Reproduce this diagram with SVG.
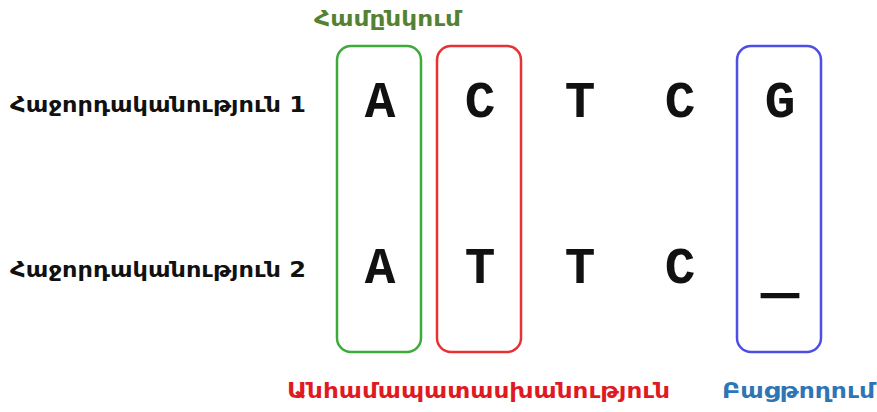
<svg xmlns="http://www.w3.org/2000/svg" width="877" height="412" viewBox="0 0 877 412">
<style>
.lbl{font-family:"DejaVu Sans","Noto Sans",sans-serif;font-weight:bold;font-size:21px;fill:#111}
.cap{font-family:"DejaVu Sans","Noto Sans",sans-serif;font-weight:bold;font-size:21px}
.nt{font-family:"Liberation Mono","Courier New",monospace;font-weight:bold;font-size:51px;fill:#111;text-anchor:middle}
.dash{stroke:#111;stroke-width:2.5;font-size:60px}
.box{fill:none;stroke-width:2.5}
</style>
<rect width="877" height="412" fill="#fff"/>
<g id="labels">
<text class="lbl" x="10" y="112" textLength="296" lengthAdjust="spacingAndGlyphs">Հաջորդականություն 1</text>
<text class="lbl" x="10" y="277" textLength="296" lengthAdjust="spacingAndGlyphs">Հաջորդականություն 2</text>
</g>
<g id="match">
<rect class="box" x="337" y="46" width="84" height="306" rx="14" stroke="#3cab3a"/>
<text class="cap" x="314" y="26" fill="#548235" textLength="147" lengthAdjust="spacingAndGlyphs">Համընկում</text>
</g>
<g id="mismatch">
<rect class="box" x="437" y="46" width="84" height="306" rx="14" stroke="#e63232"/>
<text class="cap" x="287" y="398" fill="#e01a22" textLength="383" lengthAdjust="spacingAndGlyphs">Անհամապատասխանություն</text>
</g>
<g id="gap">
<rect class="box" x="737" y="46" width="84" height="306" rx="14" stroke="#4e4ee6"/>
<text class="cap" x="722" y="398" fill="#2e75b6" textLength="153" lengthAdjust="spacingAndGlyphs">Բացթողում</text>
</g>
<g id="seq1">
<text class="nt" x="380" y="117">A</text>
<text class="nt" x="480" y="117">C</text>
<text class="nt" x="580" y="117">T</text>
<text class="nt" x="680" y="117">C</text>
<text class="nt" x="780" y="117">G</text>
</g>
<g id="seq2">
<text class="nt" x="380" y="283">A</text>
<text class="nt" x="480" y="283">T</text>
<text class="nt" x="580" y="283">T</text>
<text class="nt" x="680" y="283">C</text>
<text class="nt dash" x="780" y="291">_</text>
</g>
<g id="connectors"></g>
</svg>
